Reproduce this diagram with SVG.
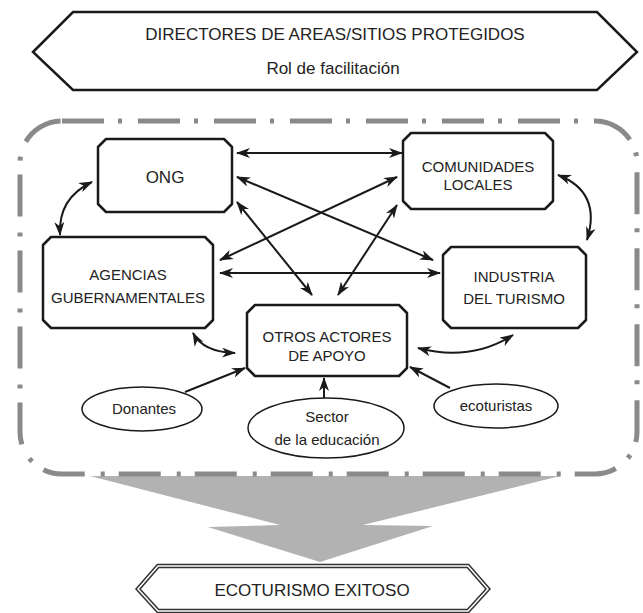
<svg xmlns="http://www.w3.org/2000/svg" width="643" height="613" viewBox="0 0 643 613">
<defs>
<marker id="ah" viewBox="0 0 14 10" refX="13" refY="5" markerWidth="14" markerHeight="10" markerUnits="userSpaceOnUse" orient="auto-start-reverse">
<path d="M0,0 L14,5 L0,10 L4,5 Z" fill="#1a1a1a"/>
</marker>
<style>
text{font-family:"Liberation Sans",Arial,sans-serif;fill:#222;text-anchor:middle}
.t17{font-size:17px}
.t15{font-size:15px}
.box{fill:#fff;stroke:#1a1a1a;stroke-width:2.5;stroke-linejoin:round}
.ell{fill:#fff;stroke:#1a1a1a;stroke-width:1.5}
.c{fill:none;stroke:#1a1a1a;stroke-width:2}
.c2{marker-start:url(#ah);marker-end:url(#ah)}
.c1{marker-end:url(#ah)}
</style>
</defs>
<rect width="643" height="613" fill="#fff"/>

<g id="big-arrow">
<polygon points="90,476 560,476 363,525 433,526 320,562 208,527 280,525" fill="#b2b2b2"/>
</g>

<g id="frame">
<rect x="20" y="121" width="617" height="353" rx="42" ry="42" fill="none" stroke="#8a8a8a" stroke-width="5" stroke-dasharray="42 14 4 16"/>
</g>

<g id="directores">
<polygon points="33,52 73,12 597,12 637,52 597,90 73,90" fill="#fff" stroke="#1a1a1a" stroke-width="2.5"/>
<text class="t17" x="335" y="40">DIRECTORES DE AREAS/SITIOS PROTEGIDOS</text>
<text class="t17" x="333" y="74">Rol de facilitación</text>
</g>

<g id="connectors">
<line class="c c2" x1="237" y1="153" x2="402" y2="153"/>
<line class="c c2" x1="237" y1="177" x2="433" y2="260"/>
<line class="c c2" x1="397" y1="177" x2="220" y2="260"/>
<line class="c c2" x1="220" y1="273" x2="440" y2="273"/>
<line class="c c2" x1="237" y1="202" x2="312" y2="295"/>
<line class="c c2" x1="397" y1="205" x2="338" y2="295"/>
<path class="c c2" d="M92,182 Q58,198 60,235"/>
<path class="c c2" d="M558,175 Q602,192 587,240"/>
<path class="c c2" d="M193,333 Q203,352 235,353"/>
<path class="c c2" d="M418,348 Q470,362 513,335"/>
<line class="c c1" x1="185" y1="392" x2="245" y2="368"/>
<line class="c c1" x1="324" y1="398" x2="324" y2="378"/>
<line class="c c1" x1="450" y1="388" x2="410" y2="367"/>
</g>

<g id="ong">
<polygon class="box" points="106,139 224,139 232,147 232,204 224,212 106,212 98,204 98,147"/>
<text class="t17" x="165" y="183">ONG</text>
</g>

<g id="agencias">
<polygon class="box" points="51,237 205,237 213,245 213,320 205,328 51,328 43,320 43,245"/>
<text class="t15" x="128" y="280">AGENCIAS</text>
<text class="t15" x="128" y="303">GUBERNAMENTALES</text>
</g>

<g id="comunidades">
<polygon class="box" points="411,133 545,133 553,141 553,201 545,209 411,209 403,201 403,141"/>
<text class="t15" x="478" y="172">COMUNIDADES</text>
<text class="t15" x="478" y="190">LOCALES</text>
</g>

<g id="industria">
<polygon class="box" points="451,247 578,247 586,255 586,320 578,328 451,328 443,320 443,255"/>
<text class="t15" x="514" y="282">INDUSTRIA</text>
<text class="t15" x="514" y="304">DEL TURISMO</text>
</g>

<g id="otros">
<polygon class="box" points="255,305 399,305 407,313 407,368 399,376 255,376 247,368 247,313"/>
<text class="t15" x="327" y="342">OTROS ACTORES</text>
<text class="t15" x="327" y="361">DE APOYO</text>
</g>

<g id="donantes">
<ellipse class="ell" cx="142" cy="409" rx="60" ry="22"/>
<text class="t15" x="144" y="414">Donantes</text>
</g>

<g id="sector">
<ellipse class="ell" cx="326" cy="428" rx="78" ry="30"/>
<text class="t15" x="327" y="422">Sector</text>
<text class="t15" x="327" y="445">de la educación</text>
</g>

<g id="ecoturistas">
<ellipse class="ell" cx="496" cy="406" rx="62" ry="22"/>
<text class="t15" x="496" y="411">ecoturistas</text>
</g>

<g id="ecoturismo">
<polygon points="138,589 158,566 468,566 488,589 468,611 158,611" fill="#fff" stroke="#333" stroke-width="4.5"/>
<polygon points="138,589 158,566 468,566 488,589 468,611 158,611" fill="none" stroke="#fff" stroke-width="1.5"/>
<text class="t17" x="312" y="596">ECOTURISMO EXITOSO</text>
</g>
</svg>
